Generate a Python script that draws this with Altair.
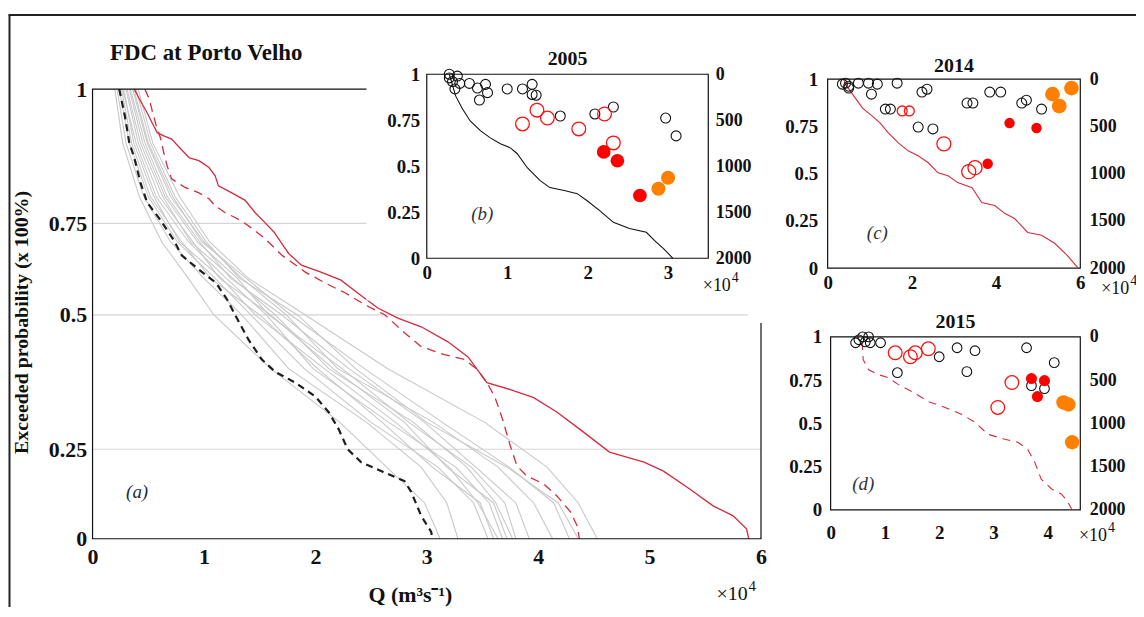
import altair as alt
import pandas as pd

# ---------------- DATA ----------------
# Panel (a): annual flow duration curves at Porto Velho (Q in 10^4 m3/s vs exceedance probability)
gray_levels = [1.0, 0.9, 0.8, 0.7, 0.6, 0.5, 0.4, 0.3, 0.2, 0.1, 0.0]
gray_q = [
    [0.20, 0.27, 0.42, 0.62, 0.86, 1.09, 1.60, 2.22, 2.64, 2.98, 3.12],
    [0.22, 0.30, 0.46, 0.70, 1.00, 1.34, 1.76, 2.46, 2.95, 3.18, 3.28],
    [0.24, 0.33, 0.50, 0.76, 1.10, 1.42, 1.90, 2.50, 3.10, 3.42, 3.55],
    [0.26, 0.35, 0.52, 0.80, 1.06, 1.50, 2.02, 2.60, 3.05, 3.48, 3.60],
    [0.28, 0.37, 0.55, 0.78, 1.16, 1.46, 2.08, 2.72, 3.20, 3.46, 3.64],
    [0.27, 0.39, 0.57, 0.86, 1.20, 1.56, 1.98, 2.66, 3.26, 3.56, 3.68],
    [0.30, 0.41, 0.60, 0.90, 1.14, 1.60, 2.16, 2.80, 3.18, 3.60, 3.72],
    [0.31, 0.43, 0.63, 0.88, 1.26, 1.64, 2.12, 2.88, 3.36, 3.62, 3.77],
    [0.33, 0.45, 0.65, 0.94, 1.30, 1.58, 2.24, 2.84, 3.40, 3.70, 3.80],
    [0.34, 0.47, 0.67, 0.96, 1.24, 1.70, 2.30, 2.98, 3.44, 3.80, 3.92],
    [0.36, 0.49, 0.70, 1.00, 1.34, 1.74, 2.20, 3.06, 3.64, 3.96, 4.13],
    [0.37, 0.50, 0.72, 0.98, 1.38, 1.78, 2.44, 3.14, 3.74, 4.14, 4.28],
    [0.39, 0.52, 0.74, 1.02, 1.32, 1.84, 2.36, 3.00, 3.72, 4.18, 4.36],
    [0.41, 0.54, 0.78, 1.05, 1.40, 1.91, 2.65, 3.52, 4.08, 4.36, 4.53],
]

fdc2005_q = [0.24, 0.29, 0.33, 0.375, 0.43, 0.49, 0.60, 0.73, 0.80, 0.93, 1.11, 1.21, 1.29, 1.40,
             1.52, 1.64, 1.82, 2.00, 2.12, 2.21, 2.29, 2.41, 2.59, 2.80, 2.86, 2.95, 3.04, 3.05]
fdc2005_p = [1.0, 0.95, 0.90, 0.872, 0.826, 0.789, 0.759, 0.704, 0.663, 0.630, 0.587, 0.541, 0.496, 0.454,
             0.417, 0.394, 0.374, 0.348, 0.319, 0.287, 0.25, 0.214, 0.189, 0.161, 0.131, 0.064, 0.019, 0.0]

fdc2014_q = [0.375, 0.43, 0.49, 0.54, 0.58, 0.64, 0.71, 0.79, 0.87, 0.955, 1.045, 1.10, 1.13, 1.25,
             1.37, 1.46, 1.545, 1.63, 1.71, 1.76, 1.875, 2.05, 2.23, 2.38, 2.56, 2.74, 2.95, 3.19,
             3.37, 3.54, 3.75, 3.96, 4.17, 4.375, 4.64, 4.95, 5.125, 5.36, 5.57, 5.75, 5.87, 5.89]
fdc2014_p = [1.0, 0.978, 0.956, 0.935, 0.919, 0.913, 0.907, 0.889, 0.872, 0.867, 0.854, 0.839, 0.820, 0.807,
             0.793, 0.770, 0.752, 0.726, 0.690, 0.668, 0.636, 0.617, 0.595, 0.560, 0.519, 0.494, 0.478, 0.45,
             0.422, 0.374, 0.361, 0.346, 0.319, 0.287, 0.242, 0.214, 0.189, 0.139, 0.092, 0.064, 0.028, 0.0]

fdc2015_q = [0.47, 0.51, 0.54, 0.58, 0.61, 0.64, 0.67, 0.71, 0.83, 0.955, 1.045, 1.10, 1.19, 1.28,
             1.37, 1.455, 1.545, 1.70, 1.91, 2.09, 2.27, 2.45, 2.625, 2.80, 2.95, 3.16, 3.34, 3.455,
             3.54, 3.61, 3.68, 3.75, 3.81, 3.90, 4.05, 4.17, 4.29, 4.35, 4.37]
fdc2015_p = [1.0, 0.981, 0.956, 0.926, 0.909, 0.881, 0.857, 0.833, 0.817, 0.807, 0.796, 0.783, 0.770, 0.761,
             0.75, 0.731, 0.709, 0.663, 0.617, 0.587, 0.560, 0.527, 0.5, 0.467, 0.441, 0.426, 0.417, 0.398,
             0.374, 0.348, 0.306, 0.256, 0.203, 0.175, 0.153, 0.119, 0.075, 0.036, 0.0]

prob_ticks = [0, 0.25, 0.5, 0.75, 1]
rank_ticks = [0, 500, 1000, 1500, 2000]

# Panel (b): 2005
b_line_q = [0.28, 0.36, 0.445, 0.54, 0.67, 0.79, 0.915, 1.04, 1.125, 1.25, 1.41, 1.53, 1.71, 1.87,
            1.99, 2.15, 2.32, 2.52, 2.73, 2.83, 2.94, 3.06]
b_line_p = [1.0, 0.881, 0.811, 0.746, 0.692, 0.654, 0.622, 0.60, 0.568, 0.492, 0.422, 0.384, 0.368, 0.351,
            0.314, 0.259, 0.195, 0.162, 0.141, 0.097, 0.054, 0.0]
b_black_q = [0.28, 0.28, 0.32, 0.38, 0.35, 0.41, 0.53, 0.63, 0.73, 0.655, 0.755, 1.0, 1.19, 1.31, 1.31,
             1.36, 1.66, 2.09, 2.32, 2.97, 3.10]
b_black_p = [1.0, 0.98, 0.96, 0.99, 0.92, 0.95, 0.95, 0.925, 0.945, 0.86, 0.90, 0.92, 0.92, 0.945, 0.89,
             0.886, 0.773, 0.784, 0.822, 0.762, 0.665]
b_redopen_q = [1.19, 1.37, 1.50, 1.89, 2.21, 2.32]
b_redopen_p = [0.73, 0.805, 0.762, 0.703, 0.784, 0.627]
b_redfill_q = [2.20, 2.37, 2.65]
b_redfill_p = [0.578, 0.53, 0.341]
b_orange_q = [2.88, 3.00]
b_orange_p = [0.378, 0.438]

# Panel (c): 2014
c_line_q = [0.38, 0.425, 0.59, 0.83, 1.06, 1.25, 1.44, 1.68, 1.91, 2.15, 2.39, 2.62, 2.86, 3.09,
            3.43, 3.66, 3.97, 4.21, 4.44, 4.75, 5.08, 5.39, 5.69, 5.95]
c_line_p = [1.0, 0.974, 0.921, 0.847, 0.805, 0.768, 0.716, 0.663, 0.621, 0.595, 0.558, 0.505, 0.489, 0.453,
            0.426, 0.347, 0.332, 0.289, 0.263, 0.189, 0.174, 0.132, 0.068, 0.0]
c_black_q = [0.35, 0.425, 0.50, 0.50, 0.73, 0.97, 1.18, 1.04, 1.65, 1.37, 1.49, 2.24, 2.36, 2.15, 2.50,
             3.31, 3.45, 3.85, 4.11, 4.61, 4.72, 5.08]
c_black_p = [0.974, 0.979, 0.963, 0.953, 0.979, 0.979, 0.974, 0.921, 0.979, 0.842, 0.842, 0.932, 0.947,
             0.747, 0.737, 0.874, 0.874, 0.932, 0.932, 0.874, 0.889, 0.842]
c_redopen_small_q = [1.77, 1.94]
c_redopen_small_p = [0.832, 0.832]
c_redopen_q = [2.76, 3.35, 3.50]
c_redopen_p = [0.658, 0.511, 0.532]
c_redfill_q = [3.80, 4.32, 4.96]
c_redfill_p = [0.553, 0.768, 0.742]
c_orange_q = [5.34, 5.50, 5.79]
c_orange_p = [0.921, 0.858, 0.953]

# Panel (d): 2015
d_line_q = [0.58, 0.586, 0.60, 0.70, 0.88, 1.06, 1.25, 1.50, 1.80, 2.11, 2.42, 2.66, 2.90, 3.21, 3.45,
            3.63, 3.76, 3.88, 4.07, 4.25, 4.36, 4.45]
d_line_p = [0.97, 0.943, 0.868, 0.81, 0.782, 0.764, 0.724, 0.684, 0.626, 0.592, 0.552, 0.506, 0.437, 0.408,
            0.391, 0.351, 0.276, 0.178, 0.121, 0.092, 0.052, 0.0]
d_black_q = [0.46, 0.52, 0.59, 0.64, 0.70, 0.73, 0.92, 1.23, 2.0, 2.33, 2.51, 2.66, 3.61, 3.70, 3.94, 4.12]
d_black_p = [0.966, 0.983, 1.0, 0.971, 1.0, 0.966, 0.966, 0.793, 0.885, 0.937, 0.799, 0.92, 0.937, 0.718,
             0.701, 0.851]
d_redopen_q = [1.19, 1.47, 1.56, 1.80, 3.34, 3.08]
d_redopen_p = [0.908, 0.885, 0.908, 0.931, 0.736, 0.592]
d_redfill_q = [3.70, 3.94, 3.81]
d_redfill_p = [0.759, 0.747, 0.655]
d_orange_q = [4.29, 4.38, 4.45]
d_orange_p = [0.621, 0.609, 0.391]

# ---------------- LAYOUT / STYLE ----------------
W, H = 1134, 600
FONT = "Liberation Serif"
RED_LINE = "#d42a3e"
LABEL_EXPR = "'' + datum.value"

PANELS = {
    "a": {"xd": [0, 6], "xr": [85, 757], "yd": [0, 0.25, 0.5, 0.75, 1], "yr": [532, 442, 307, 215, 80]},
    "b": {"xd": [0, 3.5], "xr": [421, 704], "yd": [0, 1], "yr": [250, 65]},
    "c": {"xd": [0, 6], "xr": [824, 1078], "yd": [0, 1], "yr": [260, 70]},
    "d": {"xd": [0, 4.6], "xr": [827, 1078], "yd": [0, 1], "yr": [503, 329]},
}


def xenc(p, axis=None):
    s = PANELS[p]
    return alt.X("q:Q", scale=alt.Scale(domain=s["xd"], range=s["xr"], zero=False, nice=False), axis=axis)


def yenc(p, axis=None):
    s = PANELS[p]
    return alt.Y("p:Q", scale=alt.Scale(domain=s["yd"], range=s["yr"], zero=False, nice=False), axis=axis)


def ax(orient, offset, values, size=19, pad=6, z=1, **kw):
    kw.setdefault("title", None)
    return alt.Axis(orient=orient, offset=offset, values=values, labelExpr=LABEL_EXPR, labelFont=FONT,
                    labelFontSize=size, labelFontWeight="bold", labelColor="#111", labelPadding=pad,
                    labelOverlap=False, labelFlush=False, labelBound=False, ticks=False, domain=False,
                    grid=False, zindex=z, **kw)


def line_layer(p, qs, ps, **mark):
    df = pd.DataFrame({"q": qs, "p": ps, "i": list(range(len(qs)))})
    return alt.Chart(df).mark_line(**mark).encode(x=xenc(p), y=yenc(p), order="i:Q")


def pts_layer(p, qs, ps, **mark):
    df = pd.DataFrame({"q": qs, "p": ps})
    return alt.Chart(df).mark_point(shape="circle", opacity=1, **mark).encode(x=xenc(p), y=yenc(p))


def text_layer(p, q, pv, txt, **style):
    df = pd.DataFrame({"q": [q], "p": [pv], "t": [txt]})
    return alt.Chart(df).mark_text(font=FONT, **style).encode(x=xenc(p), y=yenc(p), text="t:N")


def exp_layers(p, q, pv, size):
    # "×10" with a superscript "4", anchored where the two parts meet
    return [
        text_layer(p, q, pv, "×10", fontSize=size, align="right", baseline="middle", color="#111"),
        text_layer(p, q, pv, "4", fontSize=round(size * 0.75), align="left", baseline="middle",
                   dx=1, dy=-round(size * 0.42), color="#111"),
    ]


def rect_layer(p, q0, q1, p0, p1, xaxis=None, yaxis=None, **mark):
    df = pd.DataFrame({"q": [q0], "q2": [q1], "p": [p0], "p2": [p1]})
    return alt.Chart(df).mark_rect(**mark).encode(
        x=xenc(p, xaxis), x2=alt.X2("q2"), y=yenc(p, yaxis), y2=alt.Y2("p2"))


def frame_layer(p, xvals, lpad, bpad, size=19, z=1, xaxis_kw=None, yaxis_kw=None):
    s = PANELS[p]
    xa = ax("bottom", -(H - s["yr"][0]), xvals, size=size, pad=bpad, z=z, **(xaxis_kw or {}))
    ya = ax("left", -s["xr"][0], prob_ticks, size=size, pad=lpad, z=z, **(yaxis_kw or {}))
    return rect_layer(p, s["xd"][0], s["xd"][-1], s["yd"][0], s["yd"][-1], xa, ya,
                      filled=False, color="#111", strokeWidth=1.2)


def right_axis_layer(p, pad):
    s = PANELS[p]
    df = pd.DataFrame({"r": rank_ticks})
    return alt.Chart(df).mark_point(opacity=0).encode(
        y=alt.Y("r:Q", scale=alt.Scale(domain=[0, 2000], range=[s["yr"][-1], s["yr"][0]], zero=False, nice=False),
                axis=ax("right", -(W - s["xr"][-1]), rank_ticks, size=18, pad=pad)))


BLACK_OPEN = dict(filled=False, color="#111111", strokeWidth=1.1)
RED_OPEN = dict(filled=False, color="#ff1010", strokeWidth=1.3)
RED_FILL = dict(filled=True, color="#ff0000")
ORANGE_FILL = dict(filled=True, color="#ff8000")

# page border (top and left lines of the figure frame)
border = alt.Chart(pd.DataFrame({"u": [0.0]})).mark_point(opacity=0).encode(
    x=alt.X("u:Q", scale=alt.Scale(domain=[0, 1], range=[0, W]),
            axis=alt.Axis(orient="top", offset=-5, domainColor="#222", domainWidth=2, labels=False,
                          ticks=False, grid=False, title=None, zindex=1)),
    y=alt.Y("u:Q", scale=alt.Scale(domain=[0, 1], range=[5, H]),
            axis=alt.Axis(orient="left", offset=-1, domainColor="#222", domainWidth=2, labels=False,
                          ticks=False, grid=False, title=None, zindex=1)),
)

# ---- panel (a) ----
grid_df = pd.DataFrame({"p": [0.25, 0.5, 0.75], "q": [0, 0, 0], "q2": [6, 6, 6]})
a_grid = alt.Chart(grid_df).mark_rule(color="#d6d6d6", strokeWidth=1.2).encode(
    x=xenc("a"), x2=alt.X2("q2"), y=yenc("a"))

gray_rows = []
for gi, qs in enumerate(gray_q):
    for i, (q, pv) in enumerate(zip(qs, gray_levels)):
        gray_rows.append({"g": gi, "i": i, "q": q, "p": pv})
a_gray = alt.Chart(pd.DataFrame(gray_rows)).mark_line(color="#c8c8c8", strokeWidth=1.1).encode(
    x=xenc("a"), y=yenc("a"), detail="g:N", order="i:Q")

a_2005 = line_layer("a", fdc2005_q, fdc2005_p, color="#1e1e1e", strokeWidth=2.2, strokeDash=[7, 5])
a_2015 = line_layer("a", fdc2015_q, fdc2015_p, color=RED_LINE, strokeWidth=1.3, strokeDash=[9, 6])
a_2014 = line_layer("a", fdc2014_q, fdc2014_p, color=RED_LINE, strokeWidth=1.3)

a_frame = frame_layer(
    "a", [0, 1, 2, 3, 4, 5, 6], lpad=6, bpad=8, size=22, z=0,
    xaxis_kw=dict(title="Q (m³s⁻¹)", titleFont=FONT, titleFontSize=22, titleFontWeight="bold",
                  titleColor="#111", titleX=404, titleY=56, titleAlign="center", titleBaseline="middle"),
    yaxis_kw=dict(title="Exceeded probability (x 100%)", titleFont=FONT, titleFontSize=20,
                  titleFontWeight="bold", titleColor="#111", titleX=-71, titleY=314, titleAngle=270,
                  titleAlign="center", titleBaseline="middle"),
)
a_title = text_layer("a", 1.02, 1.067, "FDC at Porto Velho", fontSize=23, fontWeight="bold", color="#111")
a_lab = text_layer("a", 0.40, 0.131, "(a)", fontSize=19, fontStyle="italic", color="#1c2a44")
a_exp = exp_layers("a", 5.88, -0.155, 20)

# ---- inset backdrops ----
b_bg = rect_layer("b", -0.75, 4.05, -0.23, 1.18, color="white")
c_bg = rect_layer("c", -1.89, 7.6, -0.29, 1.2, color="white")

# ---- panel (b) ----
b_layers = [
    frame_layer("b", [0, 1, 2, 3], lpad=7, bpad=5),
    right_axis_layer("b", 7),
    line_layer("b", b_line_q, b_line_p, color="#111", strokeWidth=1.1),
    pts_layer("b", b_black_q, b_black_p, size=100, **BLACK_OPEN),
    pts_layer("b", b_redopen_q, b_redopen_p, size=190, **RED_OPEN),
    pts_layer("b", b_redfill_q, b_redfill_p, size=190, **RED_FILL),
    pts_layer("b", b_orange_q, b_orange_p, size=200, **ORANGE_FILL),
    text_layer("b", 1.75, 1.08, "2005", fontSize=20, fontWeight="bold", color="#111"),
    text_layer("b", 0.69, 0.243, "(b)", fontSize=19, fontStyle="italic", color="#333"),
] + exp_layers("b", 3.78, -0.15, 18)

# ---- panel (c) ----
c_layers = [
    frame_layer("c", [0, 2, 4, 6], lpad=10, bpad=5),
    right_axis_layer("c", 9),
    line_layer("c", c_line_q, c_line_p, color=RED_LINE, strokeWidth=1.1),
    pts_layer("c", c_black_q, c_black_p, size=100, **BLACK_OPEN),
    pts_layer("c", c_redopen_small_q, c_redopen_small_p, size=100, **RED_OPEN),
    pts_layer("c", c_redopen_q, c_redopen_p, size=200, **RED_OPEN),
    pts_layer("c", c_redfill_q, c_redfill_p, size=110, **RED_FILL),
    pts_layer("c", c_orange_q, c_orange_p, size=220, **ORANGE_FILL),
    text_layer("c", 3.0, 1.07, "2014", fontSize=20, fontWeight="bold", color="#111"),
    text_layer("c", 1.18, 0.184, "(c)", fontSize=19, fontStyle="italic", color="#333"),
] + exp_layers("c", 7.16, -0.11, 18)

# ---- panel (d) ----
d_layers = [
    frame_layer("d", [0, 1, 2, 3, 4], lpad=9, bpad=14),
    right_axis_layer("d", 9),
    line_layer("d", d_line_q, d_line_p, color=RED_LINE, strokeWidth=1.1, strokeDash=[8, 6]),
    pts_layer("d", d_black_q, d_black_p, size=95, **BLACK_OPEN),
    pts_layer("d", d_redopen_q, d_redopen_p, size=190, **RED_OPEN),
    pts_layer("d", d_redfill_q, d_redfill_p, size=125, **RED_FILL),
    pts_layer("d", d_orange_q, d_orange_p, size=210, **ORANGE_FILL),
    text_layer("d", 2.3, 1.086, "2015", fontSize=20, fontWeight="bold", color="#111"),
    text_layer("d", 0.6, 0.15, "(d)", fontSize=19, fontStyle="italic", color="#333"),
] + exp_layers("d", 5.09, -0.15, 18)

layers = [border, a_grid, a_gray, a_2015, a_2014, a_2005, a_frame, a_title, a_lab] + a_exp + \
         [b_bg, c_bg] + b_layers + c_layers + d_layers

chart = (
    alt.layer(*layers)
    .resolve_scale(x="independent", y="independent")
    .resolve_axis(x="independent", y="independent")
    .properties(width=W, height=H, padding=0, autosize=alt.AutoSizeParams(type="none"))
    .configure_view(stroke="transparent")
)

chart.save("out.html", embed_options={"renderer": "svg", "actions": False})
